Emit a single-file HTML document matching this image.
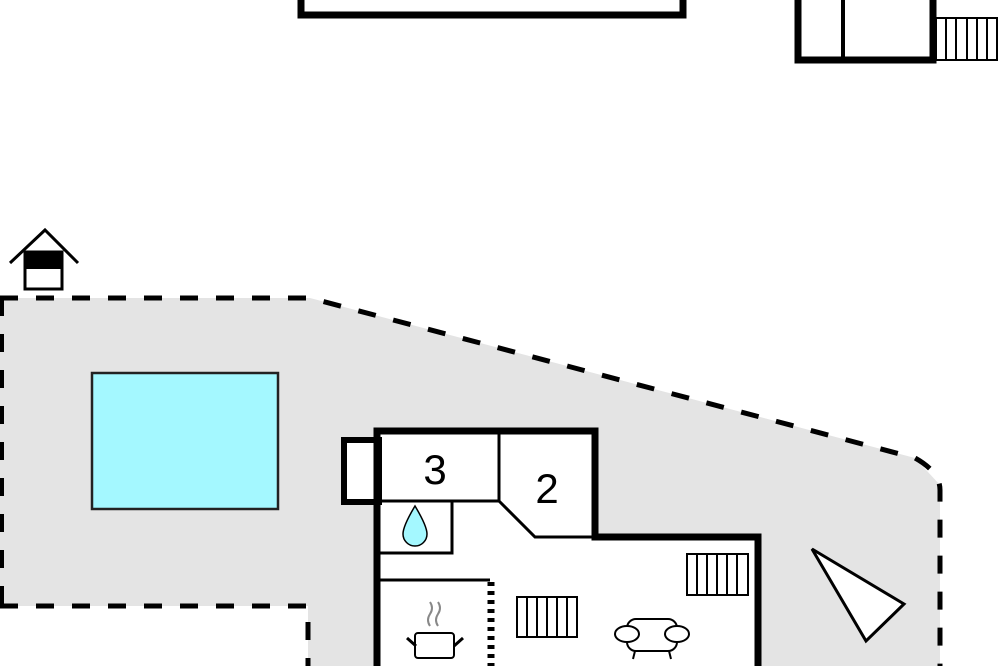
<!DOCTYPE html>
<html><head><style>html,body{margin:0;padding:0;background:#fff}svg{display:block}</style></head><body>
<svg width="1000" height="666" viewBox="0 0 1000 666" xmlns="http://www.w3.org/2000/svg">
<polygon points="0,298 310,298 915,458 940,485 940,666 308,666 308,606 0,606" fill="#e4e4e4"/>
<path d="M0,298 L310,298 L915,458 Q940,472 940,490 L940,666" fill="none" stroke="#000" stroke-width="5" stroke-dasharray="18,18"/>
<path d="M0,606 L308,606 L308,666" fill="none" stroke="#000" stroke-width="5" stroke-dasharray="18,18"/>
<line x1="2" y1="298" x2="2" y2="606" stroke="#000" stroke-width="4" stroke-dasharray="18,18"/>
<!-- top buildings -->
<rect x="301" y="-10" width="382" height="25" fill="#fff" stroke="#000" stroke-width="7"/>
<rect x="798" y="-10" width="135" height="70" fill="#fff" stroke="#000" stroke-width="7"/>
<line x1="843" y1="0" x2="843" y2="57" stroke="#000" stroke-width="4"/>
<rect x="936" y="18" width="61" height="42" fill="#fff" stroke="#000" stroke-width="2"/>
<g stroke="#000" stroke-width="2"><line x1="946" y1="18" x2="946" y2="60"/><line x1="956" y1="18" x2="956" y2="60"/><line x1="967" y1="18" x2="967" y2="60"/><line x1="977" y1="18" x2="977" y2="60"/><line x1="987" y1="18" x2="987" y2="60"/></g>
<!-- house icon -->
<polyline points="10,263 45,230 78,263" fill="none" stroke="#000" stroke-width="3"/>
<rect x="25" y="252" width="37" height="37" fill="#fff" stroke="#000" stroke-width="3"/>
<rect x="25" y="252" width="37" height="17" fill="#000"/>
<!-- pool -->
<rect x="92" y="373" width="186" height="136" fill="#a4f8ff" stroke="#222" stroke-width="2.5"/>
<!-- building -->
<polygon points="377,431 595,431 595,537 758,537 758,666 377,666" fill="#fff"/>
<rect x="344" y="440" width="35" height="62" fill="#fff" stroke="#000" stroke-width="6"/>
<path d="M377,666 L377,431 L595,431 L595,537 L758,537 L758,666" fill="none" stroke="#000" stroke-width="7"/>
<g stroke="#000" stroke-width="3" fill="none">
<line x1="379" y1="501" x2="499" y2="501"/>
<line x1="499" y1="433" x2="499" y2="501"/>
<polyline points="499,501 535,537 595,537"/>
<polyline points="452,501 452,553 379,553"/>
<line x1="379" y1="580" x2="490" y2="580"/>
</g>
<line x1="491" y1="582" x2="491" y2="666" stroke="#000" stroke-width="7" stroke-dasharray="4,5"/>
<text x="435" y="484" font-family="Liberation Sans, sans-serif" font-size="42" text-anchor="middle">3</text>
<text x="547" y="503" font-family="Liberation Sans, sans-serif" font-size="42" text-anchor="middle">2</text>
<path d="M415,506 Q403,526 403,534 A12,12 0 0 0 427,534 Q427,526 415,506Z" fill="#a4f8ff" stroke="#000" stroke-width="1.5"/>
<!-- radiators -->
<rect x="517" y="597" width="60" height="40" fill="#fff" stroke="#000" stroke-width="2"/>
<g stroke="#000" stroke-width="2"><line x1="527" y1="597" x2="527" y2="637"/><line x1="537" y1="597" x2="537" y2="637"/><line x1="547" y1="597" x2="547" y2="637"/><line x1="557" y1="597" x2="557" y2="637"/><line x1="567" y1="597" x2="567" y2="637"/></g>
<rect x="687" y="554" width="61" height="41" fill="#fff" stroke="#000" stroke-width="2"/>
<g stroke="#000" stroke-width="2"><line x1="697" y1="554" x2="697" y2="595"/><line x1="707" y1="554" x2="707" y2="595"/><line x1="717" y1="554" x2="717" y2="595"/><line x1="727" y1="554" x2="727" y2="595"/><line x1="737" y1="554" x2="737" y2="595"/></g>
<!-- armchair -->
<g fill="#fff" stroke="#000" stroke-width="2">
<rect x="627" y="619" width="50" height="32" rx="9"/>
<ellipse cx="627" cy="634" rx="12" ry="8"/>
<ellipse cx="677" cy="634" rx="12" ry="8"/>
<line x1="635" y1="651" x2="633" y2="659"/><line x1="669" y1="651" x2="671" y2="659"/>
</g>
<!-- pot -->
<rect x="415" y="633" width="39" height="25" rx="3" fill="#fff" stroke="#000" stroke-width="2"/>
<line x1="407" y1="638" x2="416" y2="646" stroke="#000" stroke-width="3"/>
<line x1="463" y1="638" x2="454" y2="646" stroke="#000" stroke-width="3"/>
<path d="M430,602 q4,6 0,12 q-4,6 0,12 M438,602 q4,6 0,12 q-4,6 0,12" fill="none" stroke="#888" stroke-width="2"/>
<!-- triangle -->
<polygon points="812,549 904,604 866,641" fill="#fff" stroke="#000" stroke-width="3"/>
</svg>
</body></html>
